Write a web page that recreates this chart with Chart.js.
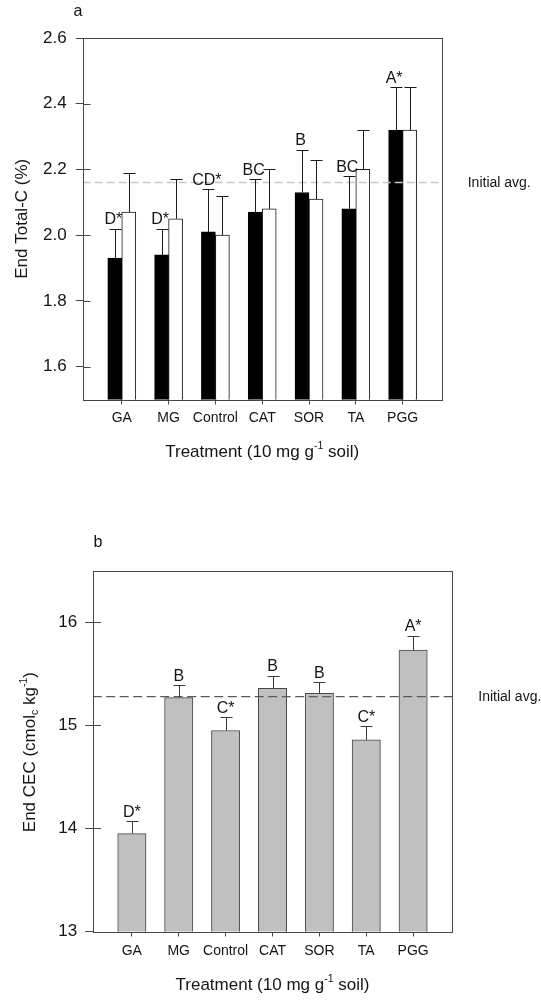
<!DOCTYPE html>
<html>
<head>
<meta charset="utf-8">
<script src="https://cdn.jsdelivr.net/npm/chart.js@4.4.1/dist/chart.umd.min.js"></script>
<style>
  body { margin: 0; background: #fff; }
  .panel { position: absolute; left: 0; width: 541px; height: 500px; }
</style>
</head>
<body>
<div class="panel" style="top:0"><canvas id="chartA" width="541" height="500"></canvas></div>
<div class="panel" style="top:500px"><canvas id="chartB" width="541" height="500"></canvas></div>
<script>
// Treatments, same order in both panels
const categories = ['GA', 'MG', 'Control', 'CAT', 'SOR', 'TA', 'PGG'];

// Panel a: end total C (%), filled and open bars, upper error (SE)
const totalCFilled = [1.93, 1.94, 2.01, 2.07, 2.13, 2.08, 2.32];
const totalCFilledErr = [0.09, 0.08, 0.13, 0.10, 0.13, 0.10, 0.13];
const totalCOpen = [2.07, 2.05, 2.00, 2.08, 2.11, 2.20, 2.32];
const totalCOpenErr = [0.12, 0.12, 0.12, 0.12, 0.12, 0.12, 0.13];
const totalCLetters = ['D*', 'D*', 'CD*', 'BC', 'B', 'BC', 'A*'];
const totalCInitial = 2.16;
const totalCTicks = [1.6, 1.8, 2.0, 2.2, 2.4, 2.6];

// Panel b: end CEC (cmolc/kg)
const cecValues = [13.95, 15.27, 14.95, 15.36, 15.31, 14.86, 15.73];
const cecErr = [0.12, 0.12, 0.13, 0.12, 0.11, 0.13, 0.14];
const cecLetters = ['D*', 'B', 'C*', 'B', 'B', 'C*', 'A*'];
const cecInitial = 15.28;
const cecTicks = [13, 14, 15, 16];

const FONT = "'Liberation Sans', Arial, Helvetica, sans-serif";
const INK = '#141414';
const AXIS = '#454545';
const X_MIN = -0.835;
const X_MAX = 6.835;

Chart.defaults.font.family = FONT;

// Turn a value list into {x, y} points on the category index
function toPoints(values) {
  return values.map((v, i) => ({ x: i, y: v }));
}

// Text with superscript / subscript pieces, centred on (x, y)
function drawRichText(ctx, parts, x, y, size, vertical) {
  ctx.save();
  ctx.translate(x, y);
  if (vertical) ctx.rotate(-Math.PI / 2);
  ctx.fillStyle = INK;
  ctx.textBaseline = 'middle';
  ctx.textAlign = 'left';
  const small = size * 0.62;
  const widths = parts.map(p => {
    ctx.font = `${p.s ? small : size}px ${FONT}`;
    return ctx.measureText(p.t).width;
  });
  let cx = -widths.reduce((a, b) => a + b, 0) / 2;
  parts.forEach((p, i) => {
    ctx.font = `${p.s ? small : size}px ${FONT}`;
    const dy = p.s === 'sup' ? -size * 0.36 : p.s === 'sub' ? size * 0.3 : 0;
    ctx.fillText(p.t, cx, dy);
    cx += widths[i];
  });
  ctx.restore();
}

// Error bars, frame, inner ticks, letters and titles
const decorPlugin = {
  id: 'decor',
  afterDatasetsDraw(chart, args, opts) {
    const { ctx, scales: { y } } = chart;
    ctx.save();
    ctx.strokeStyle = opts.errColor;
    ctx.lineWidth = 1;
    chart.data.datasets.forEach((ds, di) => {
      if (!ds.errors) return;
      chart.getDatasetMeta(di).data.forEach((bar, i) => {
        const top = Math.round(y.getPixelForValue(ds.data[i].y + ds.errors[i])) + 0.5;
        const bx = Math.round(bar.x) + 0.5;
        ctx.beginPath();
        ctx.moveTo(bx, bar.y);
        ctx.lineTo(bx, top);
        ctx.moveTo(bx - opts.cap, top);
        ctx.lineTo(bx + opts.cap, top);
        ctx.stroke();
      });
    });
    ctx.restore();
  },
  afterDraw(chart, args, opts) {
    const { ctx, chartArea: area, scales: { y } } = chart;
    ctx.save();

    // frame round the plot
    ctx.strokeStyle = AXIS;
    ctx.lineWidth = 1;
    const l = Math.round(area.left) + 0.5;
    const t = Math.round(area.top) + 0.5;
    const r = Math.round(area.right) + 0.5;
    const b = Math.round(area.bottom) + 0.5;
    ctx.strokeRect(l, t, r - l, b - t);

    // y ticks also reach into the plot
    ctx.beginPath();
    y.ticks.forEach(tk => {
      const py = Math.round(y.getPixelForValue(tk.value)) + 0.5;
      ctx.moveTo(l, py);
      ctx.lineTo(l + opts.innerTick, py);
    });
    ctx.stroke();

    // significance letters above the error bars
    const ds = chart.data.datasets[opts.letterDataset];
    const meta = chart.getDatasetMeta(opts.letterDataset);
    ctx.fillStyle = INK;
    ctx.font = `${opts.letterSize}px ${FONT}`;
    ctx.textAlign = 'center';
    ctx.textBaseline = 'alphabetic';
    meta.data.forEach((bar, i) => {
      const top = y.getPixelForValue(ds.data[i].y + ds.errors[i]);
      ctx.fillText(opts.letters[i], bar.x + opts.letterDx, top - 4.5);
    });

    // initial average label beside the dashed line
    ctx.font = `14px ${FONT}`;
    ctx.textAlign = 'left';
    ctx.textBaseline = 'middle';
    ctx.fillText('Initial avg.', area.right + 26, y.getPixelForValue(opts.initial) + 1);

    // panel letter
    ctx.font = `16px ${FONT}`;
    ctx.textAlign = 'center';
    ctx.fillText(opts.panel, opts.panelX, opts.panelY);
    ctx.restore();

    // axis titles
    drawRichText(ctx, opts.xTitle, (area.left + area.right) / 2, area.bottom + opts.xTitleDy, 17, false);
    drawRichText(ctx, opts.yTitle, opts.yTitleX, (area.top + area.bottom) / 2 + opts.yTitleDy, 17, true);
  }
};

function categoryAxis(height, padding) {
  return {
    type: 'linear',
    min: X_MIN,
    max: X_MAX,
    offset: false,
    afterBuildTicks: s => { s.ticks = categories.map((c, i) => ({ value: i })); },
    afterFit: s => { s.height = height; },
    ticks: { callback: v => categories[v], autoSkip: false, maxRotation: 0, color: INK, font: { size: 14 }, padding },
    grid: { drawOnChartArea: false, drawTicks: true, tickLength: 5, color: AXIS, offset: false },
    border: { display: false },
  };
}

function valueAxis(min, max, tickList, width, tickLength, padding, decimals) {
  return {
    min,
    max,
    afterBuildTicks: s => { s.ticks = tickList.map(v => ({ value: v })); },
    afterFit: s => { s.width = width; },
    ticks: { callback: v => v.toFixed(decimals), color: INK, font: { size: 17 }, padding },
    grid: { drawOnChartArea: false, drawTicks: true, tickLength, color: AXIS },
    border: { display: false },
  };
}

function initialLine(value, color, dash, width) {
  return {
    type: 'line',
    label: 'Initial avg.',
    data: [{ x: X_MIN, y: value }, { x: X_MAX, y: value }],
    borderColor: color,
    borderDash: dash,
    borderWidth: width,
    pointRadius: 0,
    order: 0,
  };
}

// Panel a
new Chart(document.getElementById('chartA'), {
  type: 'bar',
  data: {
    datasets: [
      {
        label: 'Filled',
        data: toPoints(totalCFilled),
        errors: totalCFilledErr,
        backgroundColor: '#000',
        borderColor: '#000',
        borderWidth: 1,
        barThickness: 14,
        order: 1,
      },
      {
        label: 'Open',
        data: toPoints(totalCOpen),
        errors: totalCOpenErr,
        backgroundColor: '#fff',
        borderColor: '#1a1a1a',
        borderWidth: 1,
        barThickness: 14,
        order: 1,
      },
      initialLine(totalCInitial, '#c6c6c6', [8, 4], 1.5),
    ],
  },
  options: {
    responsive: false,
    animation: false,
    layout: { padding: { top: 38, right: 99.3, bottom: 0, left: 0 } },
    scales: {
      x: categoryAxis(100.5, 5),
      y: valueAxis(1.5, 2.6, totalCTicks, 82.7, 7, 9, 1),
    },
    plugins: {
      legend: { display: false },
      tooltip: { enabled: false },
      decor: {
        errColor: '#1a1a1a',
        cap: 6,
        innerTick: 7,
        letters: totalCLetters,
        letterDataset: 0,
        letterDx: -1.5,
        letterSize: 16,
        initial: totalCInitial,
        panel: 'a',
        panelX: 78,
        panelY: 12,
        xTitle: [{ t: 'Treatment (10 mg g' }, { t: '-1', s: 'sup' }, { t: ' soil)' }],
        xTitleDy: 52.5,
        yTitle: [{ t: 'End Total-C (%)' }],
        yTitleX: 22.5,
        yTitleDy: 0,
      },
    },
  },
  plugins: [decorPlugin],
});

// Panel b
new Chart(document.getElementById('chartB'), {
  type: 'bar',
  data: {
    datasets: [
      {
        label: 'End CEC',
        data: toPoints(cecValues),
        errors: cecErr,
        backgroundColor: '#c0c0c0',
        borderColor: '#474747',
        borderWidth: 1,
        barThickness: 28.3,
        order: 1,
      },
      initialLine(cecInitial, '#595959', [9, 4.5], 1.3),
    ],
  },
  options: {
    responsive: false,
    animation: false,
    layout: { padding: { top: 70.8, right: 88.7, bottom: 0, left: 0 } },
    scales: {
      x: categoryAxis(68.5, 6),
      y: valueAxis(13, 16.5, cecTicks, 92.7, 7.5, 8, 0),
    },
    plugins: {
      legend: { display: false },
      tooltip: { enabled: false },
      decor: {
        errColor: '#3a3a3a',
        cap: 6,
        innerTick: 7.5,
        letters: cecLetters,
        letterDataset: 0,
        letterDx: 0,
        letterSize: 16,
        initial: cecInitial,
        panel: 'b',
        panelX: 98,
        panelY: 42.7,
        xTitle: [{ t: 'Treatment (10 mg g' }, { t: '-1', s: 'sup' }, { t: ' soil)' }],
        xTitleDy: 53.5,
        yTitle: [{ t: 'End CEC (cmol' }, { t: 'c', s: 'sub' }, { t: ' kg' }, { t: '-1', s: 'sup' }, { t: ')' }],
        yTitleX: 30,
        yTitleDy: 1,
      },
    },
  },
  plugins: [decorPlugin],
});
</script>
</body>
</html>
